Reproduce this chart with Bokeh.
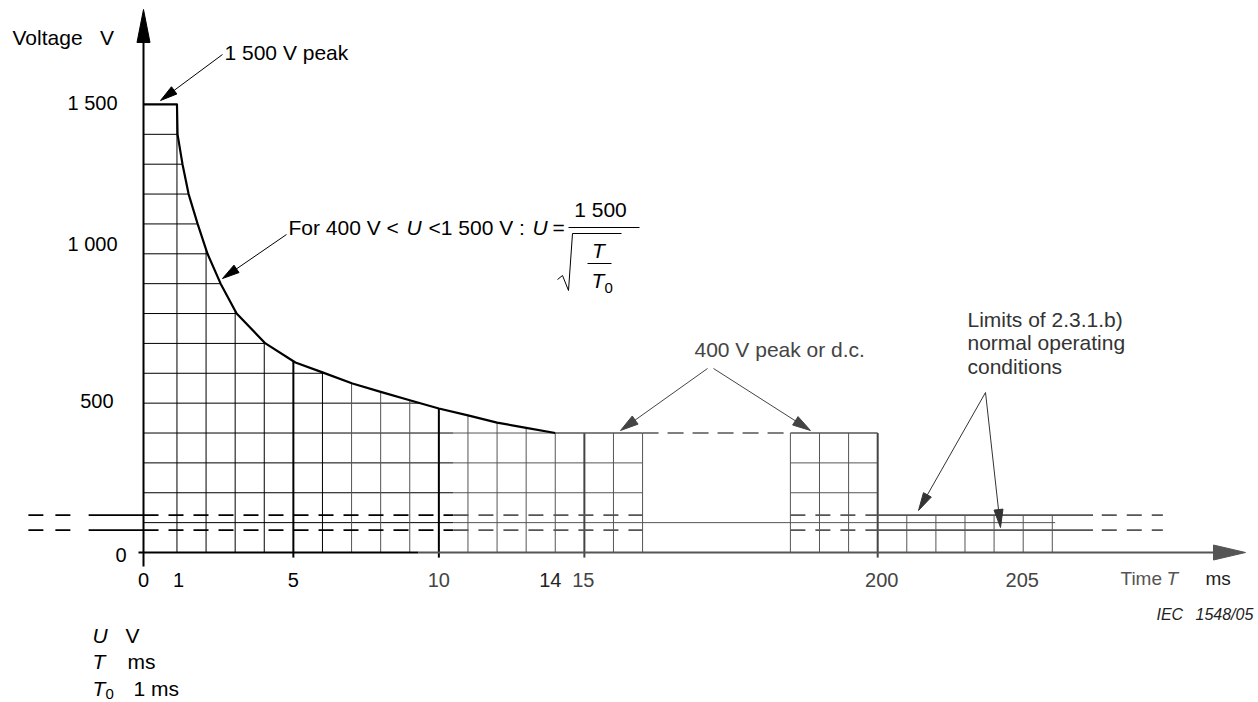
import numpy as np
from bokeh.plotting import figure
from bokeh.models import Range1d
from bokeh.core.properties import value
from bokeh.embed import file_html
from bokeh.resources import INLINE

# ---------------- data ----------------
# limit curve U(T): flat 1 500 V peak up to 1 ms, then falling to 400 V at 14 ms
CURVE_T = [0, 1, 1.02, 1.19, 1.40, 1.71, 2.05, 2.5, 3.05, 4.04, 5.07, 6.0, 7.03,
           8.06, 9.03, 10.0, 11.0, 12.0, 13.0, 14.0]
CURVE_V = [1500, 1500, 1400, 1300, 1200, 1100, 1000, 900, 800, 700, 636, 603, 566,
           536, 509, 482, 459, 435, 417, 400]
DC_T = [14, 17]                 # 400 V plateau (left block)
DC_T_RIGHT = [197, 200]         # 400 V plateau (right block)
DC_V = 400
GAP_T = [17, 197]               # broken axis region
GRID_V = list(range(100, 1500, 100))
GRID_T_LEFT = list(range(1, 18))
GRID_T_RIGHT = [197, 198, 199, 200]
GRID_T_TAIL = [201, 202, 203, 204, 205, 206]
THICK_T = [5, 10, 15, 200]
THIN_V = 100
LIMITS_V = [125, 75]            # limits of normal operating conditions
Y_TICKS = [0, 500, 1000, 1500]
Y_LABELS = ["0", "500", "1 000", "1 500"]
X_TICKS = [0, 1, 5, 10, 14, 15, 200, 205]
X_LABELS = ["0", "1", "5", "10", "14", "15", "200", "205"]

# ---------------- layout ----------------
W, H = 1258, 702
PAGE = 0
OX, OY = 143, 552        # page pixel of the origin
SX = 29.1                # px per ms (grid column)
SY = 0.2987              # px per volt
BLACK = "#000000"
GRAY = "#555555"
FONT = value("Liberation Sans")
NB = "\u00a0"
TXT_K = 0.36             # text anchor sits at cap centre: shift from baseline
FS = 21                  # main font size


def X(px):
    return (px - OX) / SX


def Y(py):
    return (OY - py) / SY


def U(T):
    """Time (ms) -> position on the broken time axis."""
    T = np.asarray(T, dtype=float)
    return np.where(T < 1, 1.15 * T, np.where(T <= 100, T + 0.15, T - 174.77))


def u1(T):
    return float(U(T))


def curve_at(T):
    return float(np.interp(T, CURVE_T[1:], CURVE_V[1:]))


def t_at(V):
    return float(np.interp(V, CURVE_V[1:][::-1], CURVE_T[1:][::-1]))


p = figure(width=W, height=H, x_range=Range1d(X(PAGE), X(PAGE + W)),
           y_range=Range1d(Y(PAGE + H), Y(PAGE)), x_axis_type=None, y_axis_type=None,
           output_backend="svg", toolbar_location=None, min_border=0,
           outline_line_color=None, background_fill_color="white",
           border_fill_color="white")
p.grid.visible = False

segs = {}


def seg(x0, y0, x1, y1, color=BLACK, width=1, dash="solid"):
    d = segs.setdefault((color, width, dash), {"x0": [], "y0": [], "x1": [], "y1": []})
    d["x0"].append(x0); d["y0"].append(y0); d["x1"].append(x1); d["y1"].append(y1)


SPLIT = 10.5


def hline(T0, T1, V, width=1, dash="solid", split=True):
    if split and T0 < SPLIT < T1:
        seg(u1(T0), V, u1(SPLIT), V, BLACK, width, dash)
        seg(u1(SPLIT), V, u1(T1), V, GRAY, width, dash)
    else:
        col = BLACK if T1 <= SPLIT else GRAY
        seg(u1(T0), V, u1(T1), V, col, width, dash)


# horizontal grid of the left block
for v in GRID_V:
    if v > DC_V:
        hline(0, t_at(v), v)
    elif v == DC_V:
        hline(0, DC_T[0], v)
    elif v == THIN_V:
        hline(0, GRID_T_TAIL[-1] + 0.1, v)
    else:
        hline(0, DC_T[1], v)
        hline(GRID_T_RIGHT[0], GRID_T_RIGHT[-1], v)

# vertical grid of the left block
for t in GRID_T_LEFT:
    top = curve_at(t) if t <= DC_T[0] else DC_V
    if t in THICK_T:
        col = BLACK if t <= 10 else "#444444"
        seg(u1(t), -17, u1(t), top, col, 2)
    else:
        col = BLACK if t <= 6 else GRAY
        seg(u1(t), 0, u1(t), top, col, 1)

# right block and tail
for t in GRID_T_RIGHT:
    if t in THICK_T:
        seg(u1(t), -17, u1(t), DC_V, "#444444", 2)
    else:
        seg(u1(t), 0, u1(t), DC_V, GRAY, 1)
for t in GRID_T_TAIL:
    seg(u1(t), 0, u1(t), LIMITS_V[0], GRAY, 1)

# 400 V plateaus and the gap between them
hline(DC_T[0], DC_T[1], DC_V, width=1.6)
hline(DC_T_RIGHT[0], DC_T_RIGHT[1], DC_V, width=1.6)
hline(GAP_T[0], GAP_T[1], DC_V, width=1.6, dash="16 9")
hline(GAP_T[0], GAP_T[1], 0, width=1, dash="7 6")

# limits of normal operating conditions
for v in LIMITS_V:
    seg(u1(-3.44), v, u1(-1.95), v, BLACK, 1.6, "15 12")
    seg(u1(-1.64), v, 0, v, BLACK, 1.6)
    hline(0, DC_T[1], v, width=1.6, dash="15 10")
    hline(GRID_T_RIGHT[0], GRID_T_RIGHT[-1], v, width=1.6, dash="15 10")
    hline(GRID_T_RIGHT[-1], 207.4, v, width=1.6)
    hline(207.7, 209.8, v, width=1.6, dash="15 10")

# axes lines
seg(u1(-0.15), 0, u1(9.3), 0, BLACK, 2)
seg(u1(9.3), 0, X(1215), 0, GRAY, 2)
seg(0, Y(566), 0, Y(40), BLACK, 2)

for (c, w, d), s in segs.items():
    p.segment(x0=s["x0"], y0=s["y0"], x1=s["x1"], y1=s["y1"], line_color=c,
              line_width=w, line_dash=d, line_cap="butt")

# limit curve
p.line(U(CURVE_T), CURVE_V, line_color=BLACK, line_width=2.2, line_join="round")


# ---------------- arrows ----------------
def head(x1, y1, ux, uy, hl, hw, color):
    bx, by = x1 - ux * hl, y1 - uy * hl
    nx, ny = -uy, ux
    xs = [x1, bx + nx * hw, bx - nx * hw]
    ys = [y1, by + ny * hw, by - ny * hw]
    p.patch([X(a) for a in xs], [Y(b) for b in ys], fill_color=color, line_color=color,
            line_width=1)


def arrow(x0, y0, x1, y1, color=BLACK, hl=17, hw=4.5):
    dx, dy = x1 - x0, y1 - y0
    L = np.hypot(dx, dy)
    ux, uy = dx / L, dy / L
    bx, by = x1 - ux * hl * 0.8, y1 - uy * hl * 0.8
    p.line([X(x0), X(bx)], [Y(y0), Y(by)], line_color=color, line_width=1)
    head(x1, y1, ux, uy, hl, hw, color)


# axis heads
head(1245, OY, 1, 0, 32, 7.5, GRAY)
head(OX, 9, 0, -1, 33, 6.5, BLACK)

arrow(222, 54, 160, 100)
arrow(286, 234, 222, 278)
arrow(707, 368, 620, 430, "#444444", 18, 5)
arrow(713, 368, 810, 430, "#444444", 18, 5)
arrow(985, 392, 918, 510, "#333333", 18, 4.5)
arrow(985, 392, 1000, 527, "#333333", 18, 4.5)


# ---------------- texts ----------------
def txt(px, py, s, size=FS, color=BLACK, italic=False, align="left"):
    """py is the baseline in page pixels."""
    p.text(x=[X(px)], y=[Y(py - TXT_K * size)], text=[s], text_font=FONT,
           text_font_size=value(f"{size}px"), text_color=color, text_align=align,
           text_baseline="alphabetic",
           text_font_style="italic" if italic else "normal")


# y tick labels
Y_LABEL_DX = [9, -4, 0, 0]
Y_LABEL_DY = [10, 5, -3, 6]
p.text(x=[X(117 + dx) for dx in Y_LABEL_DX], y=Y_TICKS,
       text=[s.replace(" ", NB) for s in Y_LABELS],
       y_offset=[d - TXT_K * 20 for d in Y_LABEL_DY], text_font=FONT,
       text_font_size=value("20px"), text_align="right", text_baseline="alphabetic",
       text_color=BLACK)
# x tick labels
X_LABEL_DX = [0, 1.5, 0, 0, -5, -1, 4, -1]
X_LABEL_COL = [BLACK, BLACK, BLACK, "#444444", "#222222", "#444444", "#444444", "#444444"]
p.text(x=list(U(X_TICKS)), y=[0] * len(X_TICKS), text=X_LABELS, x_offset=X_LABEL_DX,
       y_offset=35 - TXT_K * 20, text_font=FONT, text_font_size=value("20px"),
       text_align="center", text_baseline="alphabetic", text_color=X_LABEL_COL)

txt(12, 45, "Voltage" + NB * 3 + "V")
txt(224, 60, "1" + NB + "500 V peak")

# formula
txt(288, 235, "For 400 V <")
txt(406, 235, "U", italic=True)
txt(428, 235, "<1" + NB + "500 V :")
txt(532, 235, "U", italic=True)
txt(552, 235, "=")
txt(600, 217, "1" + NB + "500", align="center")
p.line([X(568), X(639)], [Y(227), Y(227)], line_color=BLACK, line_width=1)
p.line([X(557), X(562), X(568), X(572), X(621)], [Y(279), Y(275), Y(290), Y(233), Y(233)],
       line_color=BLACK, line_width=1)
txt(598, 258, "T", italic=True, align="center")
p.line([X(587), X(611)], [Y(263), Y(263)], line_color=BLACK, line_width=1)
txt(591, 288, "T", italic=True)
txt(604, 293, "0", size=15)

txt(694, 357, "400 V peak or d.c.", color="#444444")
txt(967, 327, "Limits of 2.3.1.b)", color="#333333")
txt(967, 350, "normal operating", color="#333333")
txt(967, 374, "conditions", color="#333333")

txt(1120, 585, "Time", size=19, color=GRAY)
txt(1166, 585, "T", size=19, color=GRAY, italic=True)
txt(1205, 585, "ms", size=19, color="#222222")
txt(1156, 620, "IEC", size=16, color="#222222", italic=True)
txt(1195, 620, "1548/05", size=16, color="#222222", italic=True)

txt(92, 643, "U", italic=True)
txt(125, 643, "V")
txt(92, 669, "T", italic=True)
txt(127, 669, "ms")
txt(92, 696, "T", italic=True)
txt(105, 699, "0", size=15)
txt(133, 696, "1" + NB + "ms")

open("out.html", "w").write(file_html(p, INLINE))
